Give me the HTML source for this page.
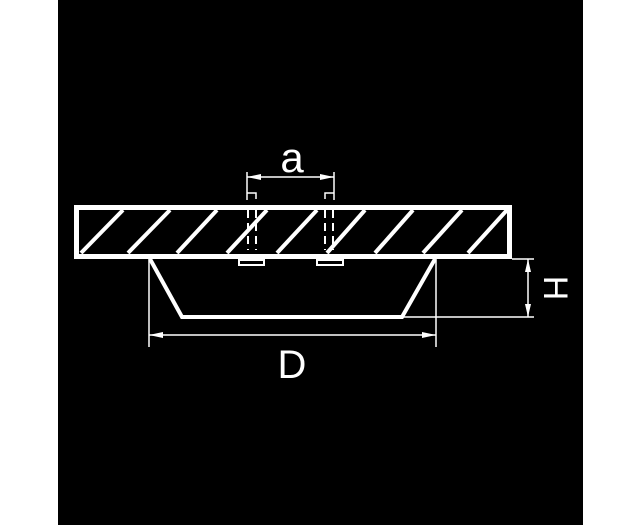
<!DOCTYPE html>
<html><head><style>html,body{margin:0;padding:0;background:#fff;width:642px;height:525px;overflow:hidden}</style></head><body>
<svg width="642" height="525" viewBox="0 0 642 525" xmlns="http://www.w3.org/2000/svg">
<rect x="0" y="0" width="642" height="525" fill="#fff"/>
<rect x="58" y="0" width="525" height="525" fill="#000"/>
<g stroke="#fff" fill="none">
<rect x="76.5" y="207.5" width="433" height="49" stroke-width="5"/>
<g stroke-width="4">
<line x1="81" y1="253" x2="123" y2="210"/>
<line x1="128" y1="253" x2="170" y2="210"/>
<line x1="177" y1="253" x2="217" y2="210"/>
<line x1="227" y1="253" x2="267" y2="210"/>
<line x1="277" y1="253" x2="317" y2="210"/>
<line x1="327" y1="253" x2="365" y2="210"/>
<line x1="375" y1="253" x2="413" y2="210"/>
<line x1="423" y1="253" x2="462" y2="210"/>
<line x1="468" y1="253" x2="507" y2="210"/>
<polyline points="150,259 182,317 402,317 435,259"/>
</g>
<g stroke-width="1.5">
<line x1="149" y1="259" x2="149" y2="347"/>
<line x1="436" y1="259" x2="436" y2="347"/>
<line x1="149" y1="335" x2="436" y2="335"/>
<line x1="402" y1="317" x2="534" y2="317"/>
<line x1="512" y1="259" x2="534" y2="259"/>
<line x1="528" y1="259" x2="528" y2="317"/>
<line x1="247" y1="172" x2="247" y2="200"/>
<line x1="334" y1="172" x2="334" y2="200"/>
<line x1="247" y1="177" x2="334" y2="177"/>
<polyline points="247,193 256,193 256,199"/>
<polyline points="334,193 325,193 325,199"/>
</g>
<g stroke-width="2" stroke-dasharray="8,5">
<line x1="248" y1="210" x2="248" y2="250"/>
<line x1="256" y1="210" x2="256" y2="250"/>
<line x1="325" y1="210" x2="325" y2="250"/>
<line x1="333" y1="210" x2="333" y2="250"/>
</g>
<rect x="239" y="260" width="25" height="5" stroke-width="2"/>
<rect x="317" y="260" width="26" height="5" stroke-width="2"/>
</g>
<g fill="#fff">
<polygon points="149,335 163,332 163,338"/>
<polygon points="436,335 422,332 422,338"/>
<polygon points="247,177 261,174 261,180"/>
<polygon points="334,177 320,174 320,180"/>
<polygon points="528,259 525,272 531,272"/>
<polygon points="528,317 525,304 531,304"/>
</g>
<g fill="#fff" font-family="Liberation Sans, sans-serif">
<text x="292" y="172" font-size="42" text-anchor="middle">a</text>
<text x="292" y="378" font-size="40" text-anchor="middle">D</text>
<text x="0" y="0" font-size="34" text-anchor="middle" transform="translate(544,288) rotate(90)">H</text>
</g>
</svg>
</body></html>
